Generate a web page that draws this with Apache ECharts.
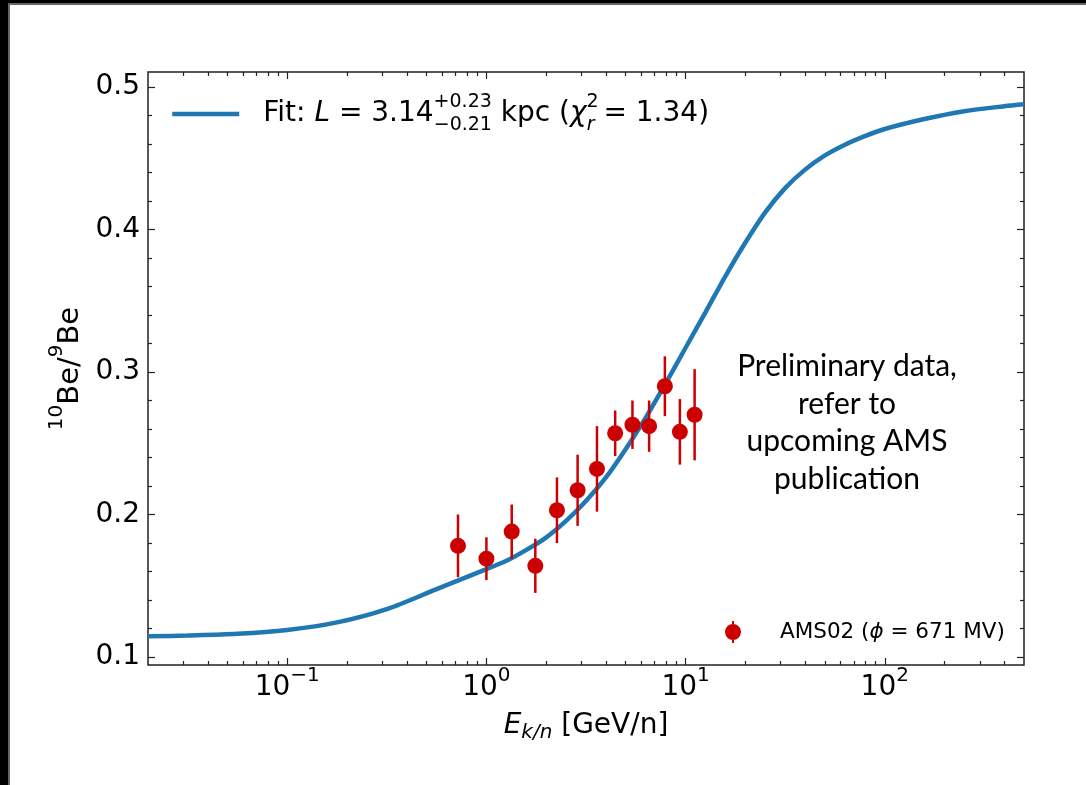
<!DOCTYPE html>
<html>
<head>
<meta charset="utf-8">
<script src="https://cdn.jsdelivr.net/npm/echarts@6/dist/echarts.min.js"></script>
<style>
html,body{margin:0;padding:0;background:#fff;}
#chart{width:1086px;height:785px;}
</style>
</head>
<body>
<div id="chart"></div>
<script>
// ---------- data ----------
const fitE = [0.02, 0.0316, 0.0562, 0.1, 0.178, 0.316, 0.562, 1.0, 1.26, 1.58, 2.0, 2.51, 3.16, 3.98, 5.01, 6.31, 7.94, 10, 12.6, 15.8, 20.0, 25.1, 31.6, 39.8, 50.1, 63.1, 79.4, 100, 158, 251, 398, 500];
const fitY = [0.1145, 0.1151, 0.1163, 0.1190, 0.1243, 0.1336, 0.1476, 0.1617, 0.1675, 0.1750, 0.1840, 0.1955, 0.2095, 0.2260, 0.2460, 0.2680, 0.2920, 0.3170, 0.3420, 0.3670, 0.3910, 0.4120, 0.4290, 0.4420, 0.4520, 0.4595, 0.4655, 0.4705, 0.4775, 0.4830, 0.4865, 0.4879];

const amsE   = [0.72, 1.0, 1.34, 1.76, 2.26, 2.87, 3.59, 4.43, 5.41, 6.56, 7.87, 9.36, 11.1];
const amsY   = [0.178, 0.169, 0.188, 0.164, 0.203, 0.217, 0.232, 0.257, 0.263, 0.262, 0.290, 0.258, 0.270];
const amsErr = [0.022, 0.015, 0.019, 0.019, 0.023, 0.025, 0.030, 0.016, 0.017, 0.018, 0.021, 0.023, 0.032];

const xMajorTicks = [0.1, 1, 10, 100];
const xMinorTicks = [0.03, 0.04, 0.05, 0.06, 0.07, 0.08, 0.09,
                     0.2, 0.3, 0.4, 0.5, 0.6, 0.7, 0.8, 0.9,
                     2, 3, 4, 5, 6, 7, 8, 9,
                     20, 30, 40, 50, 60, 70, 80, 90,
                     200, 300, 400];
const yMajorTicks = [0.1, 0.2, 0.3, 0.4, 0.5];
const yMinorTicks = [0.12, 0.14, 0.16, 0.18, 0.22, 0.24, 0.26, 0.28, 0.32, 0.34, 0.36, 0.38, 0.42, 0.44, 0.46, 0.48];

const X_MIN = 0.02, X_MAX = 500, Y_MIN = 0.0944, Y_MAX = 0.5105;

// ---------- style ----------
const F = 'DejaVu Sans';
const BLUE = '#1f77b4';
const RED = '#cc0000';
const AX = '#222';

function xAxisDef(pos, ticks, len, withLabels) {
  const a = {
    type: 'log', logBase: 10, min: X_MIN, max: X_MAX, position: pos,
    axisLine: {show: false}, splitLine: {show: false}, minorTick: {show: false},
    axisTick: {show: true, inside: true, length: len, customValues: ticks, lineStyle: {color: AX, width: 1.2}},
    axisLabel: {show: false}
  };
  if (withLabels) {
    a.axisLabel = {
      show: true, customValues: ticks, margin: 1, color: '#000',
      formatter: function (v) {
        const e = Math.round(Math.log10(v));
        return '{b|10}{s|' + (e < 0 ? '\u2212' + (-e) : e) + '}';
      },
      rich: {
        b: {fontFamily: F, fontSize: 28, lineHeight: 36, verticalAlign: 'bottom', color: '#000'},
        s: {fontFamily: F, fontSize: 20, lineHeight: 24, verticalAlign: 'top', color: '#000'}
      }
    };
    a.name = '{i|E}{sub|k/n} [GeV/n]';
    a.nameLocation = 'middle';
    a.nameGap = 44;
    a.nameTextStyle = {
      fontFamily: F, fontSize: 28, color: '#000', lineHeight: 34,
      rich: {
        i: {fontFamily: F, fontSize: 28, fontStyle: 'italic', lineHeight: 34, color: '#000'},
        sub: {fontFamily: F, fontSize: 20, fontStyle: 'italic', lineHeight: 18, verticalAlign: 'bottom', color: '#000'}
      }
    };
  }
  return a;
}
function yAxisDef(pos, ticks, len, withLabels) {
  const a = {
    type: 'value', min: Y_MIN, max: Y_MAX, position: pos,
    axisLine: {show: false}, splitLine: {show: false},
    axisTick: {show: true, inside: true, length: len, customValues: ticks, lineStyle: {color: AX, width: 1.2}},
    axisLabel: {show: false}
  };
  if (withLabels) {
    a.axisLabel = {show: true, customValues: ticks, margin: 8, color: '#000', fontFamily: F, fontSize: 28,
      formatter: v => v.toFixed(1)};
    a.name = '{s|10}{b|Be/}{s|9}{b|Be}';
    a.nameLocation = 'middle';
    a.nameRotate = 90;
    a.nameGap = 62;
    a.nameTextStyle = {
      fontFamily: F, fontSize: 29, color: '#000',
      rich: {
        b: {fontFamily: F, fontSize: 29, lineHeight: 38, verticalAlign: 'bottom', color: '#000'},
        s: {fontFamily: F, fontSize: 20, lineHeight: 22, verticalAlign: 'top', color: '#000'}
      }
    };
  }
  return a;
}

const errPath = 'path://M2,11 A8,8 0 1 1 18,11 A8,8 0 1 1 2,11 Z M9,0 L11,0 L11,22 L9,22 Z';

const option = {
  backgroundColor: '#fff',
  animation: false,
  grid: {left: 148, right: 62, top: 72, bottom: 120, show: true, borderColor: AX, borderWidth: 1.5, backgroundColor: 'transparent'},
  xAxis: [
    xAxisDef('bottom', xMajorTicks, 7, true),
    xAxisDef('bottom', xMinorTicks, 4, false),
    xAxisDef('top', xMajorTicks, 7, false),
    xAxisDef('top', xMinorTicks, 4, false)
  ],
  yAxis: [
    yAxisDef('left', yMajorTicks, 7, true),
    yAxisDef('left', yMinorTicks, 4, false),
    yAxisDef('right', yMajorTicks, 7, false),
    yAxisDef('right', yMinorTicks, 4, false)
  ],
  legend: [
    {
      data: ['Fit'], left: 170, top: 93, padding: 0, itemWidth: 67, itemHeight: 5, itemGap: 0,
      itemStyle: {opacity: 0},
      lineStyle: {color: BLUE, width: 4.5},
      formatter: () => '{g| }Fit: {it|L} = 3.14{sup|+0.23}{sub|\u22120.21} kpc ({it|\u03c7}{sup2|2}{sub2|r} = 1.34)',
      textStyle: {
        fontFamily: F, fontSize: 28, color: '#000', lineHeight: 42,
        rich: {
          g: {width: 19, fontSize: 28},
          it: {fontFamily: F, fontSize: 28, fontStyle: 'italic', color: '#000', lineHeight: 42},
          sup: {fontFamily: F, fontSize: 19, lineHeight: 21, verticalAlign: 'top', width: 0.1, color: '#000'},
          sub: {fontFamily: F, fontSize: 19, lineHeight: 21, verticalAlign: 'bottom', color: '#000'},
          sup2: {fontFamily: F, fontSize: 19, lineHeight: 21, verticalAlign: 'top', width: 0.1, color: '#000'},
          sub2: {fontFamily: F, fontSize: 19, fontStyle: 'italic', lineHeight: 21, verticalAlign: 'bottom', color: '#000'}
        }
      }
    },
    {
      data: [{name: 'AMS02', icon: errPath}], left: 725, top: 621, padding: 0, itemWidth: 20, itemHeight: 22,
      formatter: () => '{g| }AMS02 ({it|\u03d5} = 671 MV)',
      textStyle: {
        fontFamily: F, fontSize: 21.5, color: '#000',
        rich: {
          g: {width: 32, fontSize: 21.5},
          it: {fontFamily: F, fontSize: 21.5, fontStyle: 'italic', color: '#000'}
        }
      }
    }
  ],
  graphic: [
    {type: 'rect', shape: {x: 0, y: 0, width: 8, height: 785}, style: {fill: '#000'}, z: 100},
    {type: 'rect', shape: {x: 8, y: 4, width: 2, height: 781}, style: {fill: '#666'}, z: 100},
    {type: 'rect', shape: {x: 0, y: 0, width: 1086, height: 3}, style: {fill: '#000'}, z: 100},
    {type: 'rect', shape: {x: 8, y: 3, width: 1078, height: 2}, style: {fill: '#666'}, z: 100},
    {type: 'text', x: 847, y: 348, z: 100,
     style: {text: 'Preliminary data,\nrefer to\nupcoming AMS\npublication', fontFamily: 'Lato', fontSize: 30,
             lineHeight: 37.5, align: 'center', fill: '#000'}}
  ],
  series: [
    {
      name: 'Fit', type: 'line', xAxisIndex: 0, yAxisIndex: 0, symbol: 'none', smooth: 0.3,
      lineStyle: {color: BLUE, width: 4.5}, itemStyle: {color: BLUE}, z: 3,
      data: fitE.map((e, i) => [e, fitY[i]])
    },
    {
      name: 'AMS02err', type: 'custom', xAxisIndex: 0, yAxisIndex: 0, z: 4,
      encode: {x: 0, y: 1},
      renderItem: function (params, api) {
        const x = api.value(0), y = api.value(1), e = api.value(2);
        const p1 = api.coord([x, y - e]);
        const p2 = api.coord([x, y + e]);
        return {type: 'line', shape: {x1: p1[0], y1: p1[1], x2: p2[0], y2: p2[1]},
                style: {stroke: RED, lineWidth: 2.5}};
      },
      data: amsE.map((e, i) => [e, amsY[i], amsErr[i]])
    },
    {
      name: 'AMS02', type: 'scatter', xAxisIndex: 0, yAxisIndex: 0, symbol: 'circle', symbolSize: 16, z: 5,
      itemStyle: {color: RED, opacity: 1},
      data: amsE.map((e, i) => [e, amsY[i]])
    }
  ]
};
const chart = echarts.init(document.getElementById('chart'), null, {renderer: 'canvas'});
chart.setOption(option);
</script>
</body>
</html>
